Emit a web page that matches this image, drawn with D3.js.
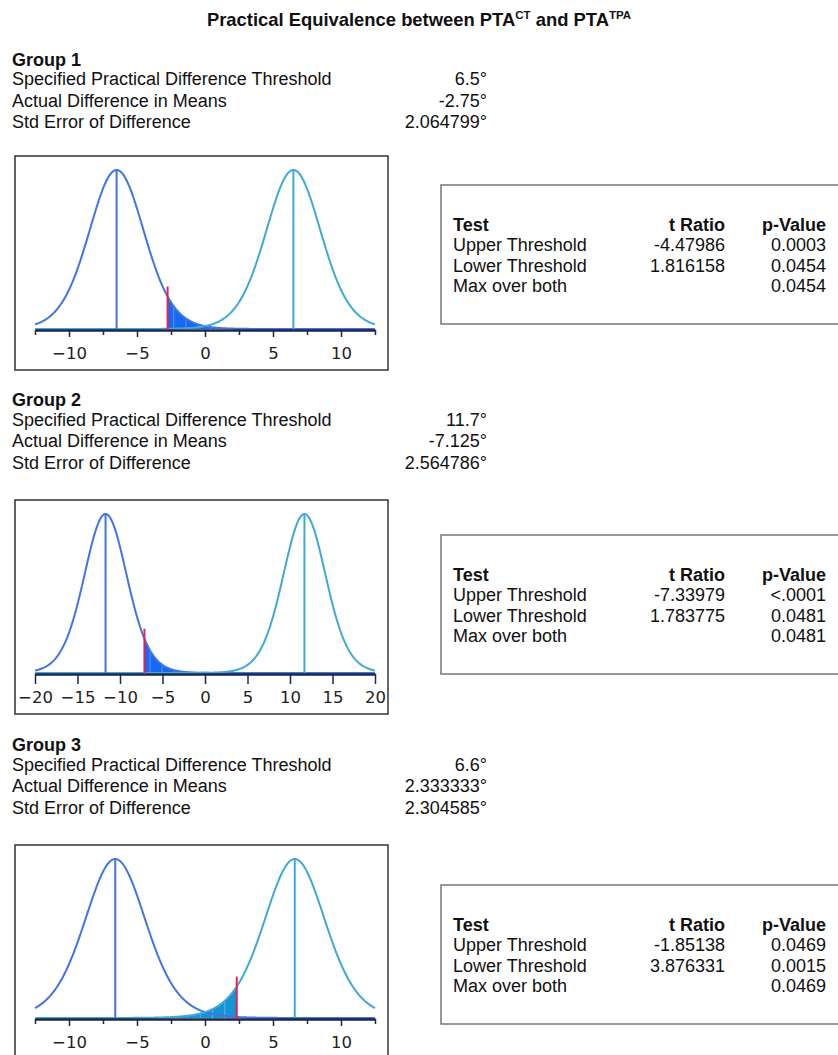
<!DOCTYPE html>
<html>
<head>
<meta charset="utf-8">
<script src="https://cdn.jsdelivr.net/npm/d3@7"></script>
<style>
  body { margin: 0; background: #fff; }
  text { font-family: "Liberation Sans", Arial, sans-serif; fill: #111; }
</style>
</head>
<body>
<div id="chart"></div>
<script>
// Values
const groupNames = ["Group 1", "Group 2", "Group 3"];
const thresholds = [6.5, 11.7, 6.6];
const meanDiffs = [-2.75, -7.125, 2.333333];
const stdErrors = [2.064799, 2.564786, 2.304585];
const thresholdLabels = ["6.5°", "11.7°", "6.6°"];
const diffLabels = ["-2.75°", "-7.125°", "2.333333°"];
const stdErrLabels = ["2.064799°", "2.564786°", "2.304585°"];
const tUpper = ["-4.47986", "-7.33979", "-1.85138"];
const tLower = ["1.816158", "1.783775", "3.876331"];
const pUpper = ["0.0003", "<.0001", "0.0469"];
const pLower = ["0.0454", "0.0481", "0.0015"];
const pMax = ["0.0454", "0.0481", "0.0469"];
const degFree = [14, 14, 10]; // estimated from the p-values
const axisDomains = [[-12.5, 12.5], [-20, 20], [-12.5, 12.5]];
const majorTicks = [[-10, -5, 0, 5, 10], [-20, -15, -10, -5, 0, 5, 10, 15, 20], [-10, -5, 0, 5, 10]];
const minorTicks = [[-12.5, -7.5, -2.5, 2.5, 7.5, 12.5], [], [-12.5, -7.5, -2.5, 2.5, 7.5, 12.5]];
const rowLabels = ["Specified Practical Difference Threshold", "Actual Difference in Means", "Std Error of Difference"];

// layout
const width = 838, height = 1055;
const headerY = [65.5, 406, 751];
const plotTop = [156, 500, 845];
const tableTop = [185, 535, 885];
const tickLen = [7, 10, 7];

const leftColor = "#4274e2", rightColor = "#3ea9da";
const shadeColor = ["#1669f2", "#1669f2", "#1794d4"];

const svg = d3.select("#chart").append("svg")
  .attr("width", width).attr("height", height);

// title
const title = svg.append("text")
  .attr("x", 419).attr("y", 26)
  .attr("text-anchor", "middle")
  .attr("font-size", 18.4).attr("font-weight", "bold");
title.append("tspan").text("Practical Equivalence between PTA");
title.append("tspan").attr("font-size", 11.5).attr("dy", -7).text("CT");
title.append("tspan").attr("dy", 7).text(" and PTA");
title.append("tspan").attr("font-size", 11.5).attr("dy", -7).text("TPA");

// relative t density
function dens(x, mu, se, df) {
  const t = (x - mu) / se;
  return Math.pow(1 + t * t / df, -(df + 1) / 2);
}

groupNames.forEach((name, g) => {
  // summary block
  const hy = headerY[g];
  svg.append("text").attr("x", 12).attr("y", hy)
    .attr("font-size", 18).attr("font-weight", "bold").text(name);
  const vals = [thresholdLabels[g], diffLabels[g], stdErrLabels[g]];
  const offs = [19.5, 41.2, 62.8];
  rowLabels.forEach((lab, i) => {
    svg.append("text").attr("x", 12).attr("y", hy + offs[i]).attr("font-size", 18).text(lab);
    svg.append("text").attr("x", 487).attr("y", hy + offs[i]).attr("font-size", 18)
      .attr("text-anchor", "end").text(vals[i]);
  });

  // plot frame
  const top = plotTop[g];
  svg.append("rect").attr("x", 15).attr("y", top).attr("width", 373).attr("height", 214)
    .attr("fill", "none").attr("stroke", "#333").attr("stroke-width", 1.5);

  const axisY = top + 174;
  const [lo, hi] = axisDomains[g];
  const x = d3.scaleLinear().domain([lo, hi]).range([35, 375]);
  const y = d3.scaleLinear().domain([0, 1]).range([axisY - 1, top + 14]);

  const thr = thresholds[g], se = stdErrors[g], df = degFree[g], diff = meanDiffs[g];
  const step = (hi - lo) / 500;
  const xs = d3.range(lo, hi + step / 2, step);

  // shaded tail
  const mu = diff < 0 ? -thr : thr;
  const shadeXs = diff < 0 ? [diff].concat(xs.filter(v => v > diff))
                           : xs.filter(v => v < diff).concat([diff]);
  const area = d3.area()
    .x(d => x(d)).y0(y(0)).y1(d => y(dens(d, mu, se, df)));
  svg.append("path").datum(shadeXs).attr("d", area).attr("fill", shadeColor[g]);

  // light stripes in the shade
  const stripes = shadeXs.filter((v, i) => i % 18 === 9);
  svg.selectAll(null).data(stripes).enter().append("line")
    .attr("x1", d => x(d)).attr("x2", d => x(d))
    .attr("y1", y(0)).attr("y2", d => y(dens(d, mu, se, df)) + 1)
    .attr("stroke", "#fff").attr("stroke-opacity", 0.3).attr("stroke-width", 1);

  // curves
  const line = m => d3.line().x(d => x(d)).y(d => y(dens(d, m, se, df)));
  svg.append("path").datum(xs).attr("d", line(-thr))
    .attr("fill", "none").attr("stroke", leftColor).attr("stroke-width", 2);
  svg.append("path").datum(xs).attr("d", line(thr))
    .attr("fill", "none").attr("stroke", rightColor).attr("stroke-width", 2);

  // mean lines
  [[-thr, leftColor], [thr, rightColor]].forEach(([m, c]) => {
    svg.append("line").attr("x1", x(m)).attr("x2", x(m))
      .attr("y1", y(0)).attr("y2", y(1))
      .attr("stroke", c).attr("stroke-width", 2);
  });

  // axis
  const ax = svg.append("g").attr("transform", `translate(0,${axisY})`)
    .call(d3.axisBottom(x).tickValues(majorTicks[g]).tickSize(tickLen[g]).tickSizeOuter(0));
  ax.select(".domain").attr("stroke", "#1c2748").attr("stroke-width", 2.5);
  ax.selectAll(".tick line").attr("stroke", "#1c2748").attr("stroke-width", 1.5);
  ax.selectAll(".tick text")
    .attr("y", 29).attr("dy", null)
    .style("font-family", "'DejaVu Sans', sans-serif").attr("font-size", 16.5)
    .style("fill", "#222");
  if (minorTicks[g].length) {
    const mx = svg.append("g").attr("transform", `translate(0,${axisY})`)
      .call(d3.axisBottom(x).tickValues(minorTicks[g]).tickSize(5).tickFormat(""));
    mx.select(".domain").remove();
    mx.selectAll(".tick line").attr("stroke", "#1c2748").attr("stroke-width", 1.5);
  }

  // red marker at the observed difference
  svg.append("line").attr("x1", x(diff)).attr("x2", x(diff))
    .attr("y1", axisY).attr("y2", y(dens(diff, mu, se, df)) - 10)
    .attr("stroke", "#ea1f4d").attr("stroke-width", 2);

  // test table
  const tt = tableTop[g];
  svg.append("rect").attr("x", 441).attr("y", tt).attr("width", 420).attr("height", 139)
    .attr("fill", "none").attr("stroke", "#777").attr("stroke-width", 1.5);
  const hb = tt + 45.7;
  const rows = [
    ["Test", "t Ratio", "p-Value", true],
    ["Upper Threshold", tUpper[g], pUpper[g], false],
    ["Lower Threshold", tLower[g], pLower[g], false],
    ["Max over both", "", pMax[g], false]
  ];
  rows.forEach((r, i) => {
    const yy = hb + i * 20.4;
    const w = r[3] ? "bold" : "normal";
    svg.append("text").attr("x", 453).attr("y", yy).attr("font-size", 18).attr("font-weight", w).text(r[0]);
    svg.append("text").attr("x", 725).attr("y", yy).attr("font-size", 18).attr("font-weight", w)
      .attr("text-anchor", "end").text(r[1]);
    svg.append("text").attr("x", 826).attr("y", yy).attr("font-size", 18).attr("font-weight", w)
      .attr("text-anchor", "end").text(r[2]);
  });
});
</script>
</body>
</html>
